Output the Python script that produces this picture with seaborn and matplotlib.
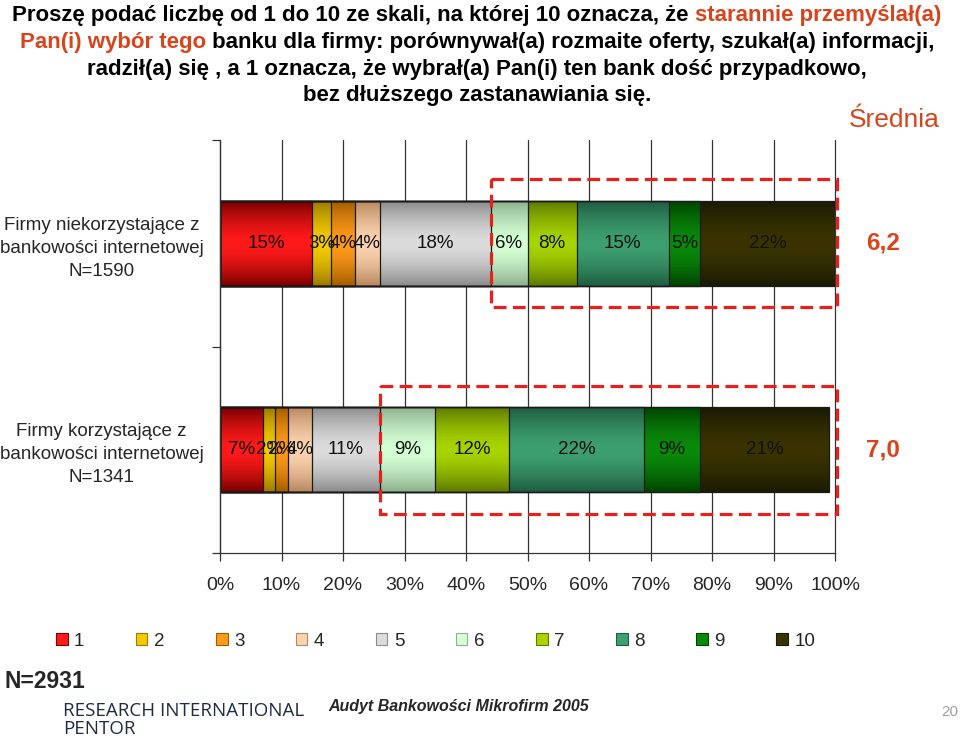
import numpy as np
import pandas as pd
import matplotlib
import matplotlib.pyplot as plt
import seaborn as sns
from matplotlib.colors import LinearSegmentedColormap
from matplotlib.patches import Patch, Rectangle
import matplotlib.transforms as mtransforms

# dane
groups = ["Firmy niekorzystające z\nbankowości internetowej\nN=1590",
          "Firmy korzystające z\nbankowości internetowej\nN=1341"]
ratings = ["1", "2", "3", "4", "5", "6", "7", "8", "9", "10"]
non_users = [15, 3, 4, 4, 18, 6, 8, 15, 5, 22]
users = [7, 2, 2, 4, 11, 9, 12, 22, 9, 21]
means = ["6,2", "7,0"]

light = ["#FF1A1A", "#F2CA00", "#FF9A1A", "#FBD3B0", "#DCDCDC",
         "#D4FFD4", "#A8D400", "#3DA070", "#0A8A0A", "#3A3300"]
dark = ["#7A0000", "#9C7A00", "#A35C00", "#B8885E", "#8C8C8C",
        "#8DB08D", "#5E7A00", "#1F5C40", "#004400", "#1A1A05"]
red_txt = "#D9441C"

sns.set_theme(style="white")
plt.rcParams["font.family"] = ["Liberation Sans", "DejaVu Sans"]

vals = np.array([non_users, users])
cum = vals.cumsum(axis=1)

fig = plt.figure(figsize=(9.6, 7.39), dpi=100)
ax = fig.add_axes([220 / 960, 1 - 553 / 739, 615 / 960, 413 / 739])

# skumulowane słupki: od najdłuższego do najkrótszego
owners = []
for k in range(9, -1, -1):
    df = pd.DataFrame({"grupa": groups, "cum": cum[:, k]})
    n0 = len(ax.patches)
    sns.barplot(data=df, x="cum", y="grupa", color=light[k], orient="h",
                width=0.41, errorbar=None, ax=ax, saturation=1)
    owners += [k] * (len(ax.patches) - n0)

# gradient w każdym segmencie
prof = np.abs(np.linspace(-1, 1, 80)) ** 1.6
for i, (p, k) in enumerate(zip(ax.patches, owners)):
    cmap = LinearSegmentedColormap.from_list("g%d" % k, [light[k], dark[k]])
    x0, y0, w, h = p.get_x(), p.get_y(), p.get_width(), p.get_height()
    ax.imshow(prof[:, None], cmap=cmap, vmin=0, vmax=1, aspect="auto",
              extent=(x0, x0 + w, y0 + h, y0), zorder=1 + i * 0.01,
              interpolation="bilinear")
    p.set_facecolor("none")
    p.set_edgecolor("#1a1a1a")
    p.set_linewidth(0.9)
    p.set_zorder(2)
ax.set_xlim(0, 100)
ax.set_ylim(1.5, -0.5)

# etykiety procentowe
for r in range(2):
    for k in range(10):
        ax.text(cum[r, k] - vals[r, k] / 2, r, f"{vals[r, k]}%", ha="center",
                va="center", fontsize=13.5, color="#111111", zorder=4)

# ramki przerywane (oceny 6-10)
for r in range(2):
    x0 = cum[r, 4]
    rect = Rectangle((x0, r - 0.31), 100.3 - x0, 0.62, fill=False,
                     edgecolor="#E8201C", lw=2.3, linestyle=(0, (4, 2)),
                     zorder=5, clip_on=False)
    ax.add_patch(rect)

# średnie
tr = mtransforms.blended_transform_factory(ax.transAxes, ax.transData)
for r in range(2):
    ax.text(1.078, r, means[r], transform=tr, ha="center", va="center",
            fontsize=17.5, fontweight="bold", color=red_txt)
fig.text(0.979, 1 - 120 / 739, "Średnia", ha="right", va="center",
         fontsize=19, color=red_txt)

# osie
ax.set_xticks(range(0, 101, 10))
ax.set_xticklabels([f"{t}%" for t in range(0, 101, 10)], fontsize=14)
ax.xaxis.grid(True, color="#333333", lw=0.9, zorder=0, clip_on=False)
ax.set_axisbelow(True)
ax.tick_params(axis="x", direction="out", length=6, width=0.9, color="#333333",
               pad=11, bottom=True)
ax.set_yticks([0, 1])
ax.set_yticklabels(groups, fontsize=13.5, multialignment="center", linespacing=1.45)
ax.tick_params(axis="y", length=0, pad=12)
ax.set_yticks([-0.5, 0.5, 1.5], minor=True)
ax.tick_params(axis="y", which="minor", direction="out", length=6, width=0.9,
               color="#333333", left=True)
ax.set_xlabel("")
ax.set_ylabel("")
for s in ["top", "right"]:
    ax.spines[s].set_visible(False)
for s in ["left", "bottom"]:
    ax.spines[s].set_color("#333333")
    ax.spines[s].set_linewidth(0.9)

# legenda
handles = [Patch(facecolor=light[k], edgecolor=dark[k], lw=0.8) for k in range(10)]
fig.legend(handles, ratings, loc="center left", bbox_to_anchor=(39 / 960, 1 - 641 / 739),
           ncol=10, frameon=False, fontsize=13.5, handlelength=0.62, handleheight=0.62,
           handletextpad=0.35, columnspacing=2.74)

# tytuł z kolorowymi fragmentami
title_lines = [
    [("Proszę podać liczbę od 1 do 10 ze skali, na której 10 oznacza, że ", "black"),
     ("starannie przemyślał(a)", red_txt)],
    [("Pan(i) wybór tego", red_txt),
     (" banku dla firmy: porównywał(a) rozmaite oferty, szukał(a) informacji,", "black")],
    [("radził(a) się , a 1 oznacza, że wybrał(a) Pan(i) ten bank dość przypadkowo,", "black")],
    [("bez dłuższego zastanawiania się.", "black")],
]
renderer = fig.canvas.get_renderer()
for li, parts in enumerate(title_lines):
    y = 1 - (16 + li * 26.5) / 739
    texts = [fig.text(0, y, s, color=c, va="center", ha="left",
                      fontsize=16, fontweight="bold") for s, c in parts]
    widths = [t.get_window_extent(renderer).width for t in texts]
    x = 477 - sum(widths) / 2
    for t, w in zip(texts, widths):
        t.set_x(x / 960)
        x += w

# stopka
fig.text(5 / 960, 1 - 681 / 739, "N=2931", fontsize=16.5, fontweight="bold",
         va="center")
fig.text(63 / 960, 1 - 711 / 739, "RESEARCH INTERNATIONAL", fontsize=13.5,
         color="#1F2A44", va="center", family=["Open Sans", "DejaVu Sans"])
fig.text(63 / 960, 1 - 729 / 739, "PENTOR", fontsize=13.5,
         color="#1F2A44", va="center", family=["Open Sans", "DejaVu Sans"])
fig.text(328 / 960, 1 - 707 / 739, "Audyt Bankowości Mikrofirm 2005", fontsize=11.5,
         fontweight="bold", fontstyle="italic", va="center")
fig.text(950 / 960, 1 - 712 / 739, "20", fontsize=11, color="#A0A0A0",
         ha="center", va="center")

fig.savefig("out.png", dpi=100)
